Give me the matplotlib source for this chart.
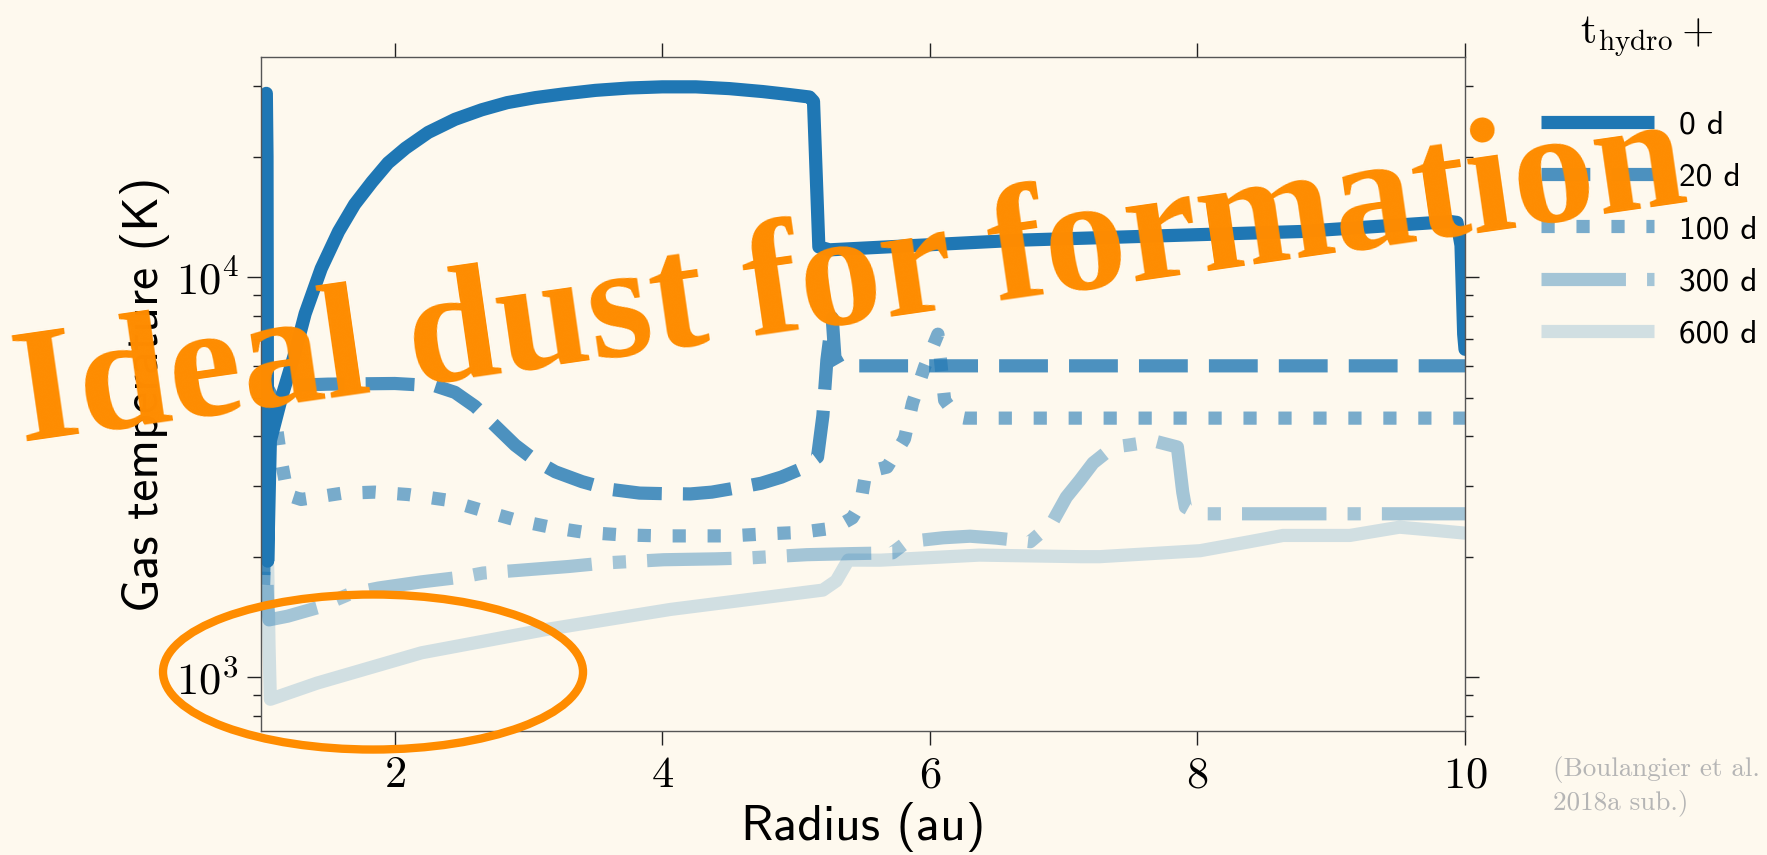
import matplotlib
matplotlib.use("Agg")
import matplotlib.pyplot as plt
from matplotlib.patches import Ellipse
from matplotlib.ticker import NullFormatter

# %% DATA
radius_0 = [1.04, 1.045, 1.05, 1.07, 1.15, 1.25, 1.33, 1.45, 1.58, 1.7, 1.83, 1.95, 2.08, 2.25,
            2.45, 2.65, 2.84, 3.05, 3.26, 3.5, 3.75, 4.0, 4.25, 4.5, 4.75, 4.95, 5.10, 5.13,
            5.17, 5.25, 6.67, 8.77, 9.89, 9.94, 9.97, 9.99, 10.0]
temp_0 = [28800, 20000, 1950, 3900, 4950, 6400, 8100, 10500, 13000, 15200, 17300, 19300, 21000, 23000,
          24800, 26200, 27300, 28100, 28700, 29300, 29700, 29900, 29900, 29600, 29100, 28600, 28200, 27500,
          11900, 11700, 12370, 13000, 13770, 13700, 12000, 7200, 6600]

radius_20 = [1.02, 1.05, 1.08, 1.15, 1.5, 2.0, 2.3, 2.45, 2.6, 2.75, 2.9, 3.05, 3.2, 3.4, 3.6,
             3.83, 4.0, 4.21, 4.37, 4.55, 4.74, 4.89, 5.05, 5.16, 5.20, 5.23, 5.27, 5.29,
             5.32, 5.4, 10.0]
temp_20 = [1800, 4000, 5200, 5350, 5400, 5420, 5350, 5150, 4750, 4250, 3800, 3480, 3260, 3080, 2950,
           2884, 2875, 2870, 2900, 2970, 3052, 3162, 3330, 3550, 4500, 6200, 7900, 6300,
           6050, 6000, 6000]

radius_100 = [1.02, 1.06, 1.10, 1.15, 1.2, 1.3, 1.6, 1.85, 2.1, 2.39, 2.64, 2.9, 3.16, 3.42, 3.7,
              4.0, 4.5, 4.77, 5.03, 5.29, 5.42, 5.48, 5.52, 5.6, 5.68, 5.81, 5.87, 5.96, 6.06,
              6.11, 6.2, 6.26, 10.0]
temp_100 = [1700, 4800, 4600, 3500, 2850, 2780, 2880, 2900, 2860, 2770, 2618, 2472, 2371, 2300, 2267,
            2254, 2254, 2280, 2300, 2360, 2500, 2700, 3230, 3300, 3350, 3940, 4840, 5960, 7200,
            4920, 4480, 4440, 4440]

radius_300 = [1.02, 1.05, 1.06, 1.2, 1.42, 1.67, 1.88, 2.2, 2.5, 2.66, 2.94, 3.3, 3.58, 4.01, 4.4,
              4.65, 5.08, 5.4, 5.72, 5.83, 6.1, 6.3, 6.5, 6.75, 6.91, 7.02, 7.12, 7.22, 7.37,
              7.48, 7.68, 7.85, 7.89, 7.91, 8.0, 10.0]
temp_300 = [3800, 1500, 1390, 1420, 1490, 1617, 1670, 1730, 1778, 1820, 1850, 1890, 1930, 1965, 1975,
            1986, 2023, 2035, 2044, 2180, 2230, 2250, 2225, 2180, 2420, 2818, 3100, 3430, 3760,
            3800, 3890, 3760, 2900, 2660, 2560, 2560]

radius_600 = [1.05, 1.06, 1.07, 1.42, 2.2, 3.12, 4.06, 5.2, 5.3, 5.39, 5.63, 6.37, 7.12, 7.27,
              8.02, 8.39, 8.64, 9.14, 9.51, 9.76, 10.0]
temp_600 = [1900, 1200, 880, 966, 1150, 1313, 1476, 1650, 1740, 1961, 1960, 2018, 2000, 2000,
            2070, 2180, 2260, 2260, 2370, 2330, 2290]

labels = ["0 d", "20 d", "100 d", "300 d", "600 d"]
alphas = [1.0, 0.8, 0.6, 0.4, 0.2]
styles = ["-", "--", ":", "-.", "-"]
series = [(radius_0, temp_0), (radius_20, temp_20), (radius_100, temp_100),
          (radius_300, temp_300), (radius_600, temp_600)]

# %% STYLE
plt.rcParams["mathtext.fontset"] = "cm"
plt.rcParams["axes.unicode_minus"] = False

bg = "#fef9ee"
blue = "#1f77b4"
orange = "#ff8c00"

fig = plt.figure(figsize=(17.67, 8.55), dpi=100, facecolor=bg)
ax = fig.add_axes([0.1477, 0.145, 0.6814, 0.7883], facecolor=bg)

# %% PLOT
for (r, t), lab, a, ls in zip(series, labels, alphas, styles):
    ax.plot(r, t, color=blue, alpha=a, ls=ls, lw=9.5, label=lab,
            solid_capstyle="round", solid_joinstyle="round")

ax.set_yscale("log")
ax.set_xlim(1, 10)
ax.set_ylim(733, 35500)
ax.set_xticks([2, 4, 6, 8, 10], labels=[f"${v}$" for v in [2, 4, 6, 8, 10]])
ax.set_yticks([1e3, 1e4], labels=[r"$10^{3}$", r"$10^{4}$"])
ax.yaxis.set_minor_formatter(NullFormatter())

ax.tick_params(which="both", direction="out", top=True, right=True, color="#222222", width=1.0)
ax.tick_params(which="major", length=10, labelsize=32, pad=6)
ax.tick_params(which="minor", length=6)
ax.tick_params(axis="x", which="minor", top=False, bottom=False)
for sp in ax.spines.values():
    sp.set_color("#555555")
    sp.set_linewidth(1.0)

ax.set_xlabel("Radius (au)", family="cmss10", fontsize=36, labelpad=4)
ax.set_ylabel("Gas temperature (K)", family="cmss10", fontsize=36, labelpad=4)

leg = ax.legend(loc="upper left", bbox_to_anchor=(0.872, 0.8713), bbox_transform=fig.transFigure,
                frameon=False, prop={"family": "cmss10", "size": 24},
                handlelength=3.4, handletextpad=0.75, labelspacing=0.69,
                borderpad=0, borderaxespad=0)
for h in leg.get_lines():
    h.set_solid_capstyle("butt")
# legend title
fig.text(0.932, 0.957, r"$\mathrm{t}_{\mathrm{hydro}}+$", fontsize=30, ha="center", va="center")

fig.text(0.8789, 0.054, "(Boulangier et al.\n2018a sub.)", family="cmr10", fontsize=19.5,
         color="#b5b5b5", va="baseline", linespacing=1.3)

# highlight and overlay
fig.patches.append(Ellipse((0.2111, 0.214), 0.2377, 0.1813, transform=fig.transFigure,
                           fill=False, edgecolor=orange, lw=6, zorder=10))
fig.text(0.0125, 0.483, "Ideal dust for formation", family="Liberation Serif", weight="bold",
         fontsize=118, color=orange, rotation=8.2, rotation_mode="anchor",
         ha="left", va="baseline", zorder=11)

fig.savefig("out.png", dpi=100, facecolor=bg)
